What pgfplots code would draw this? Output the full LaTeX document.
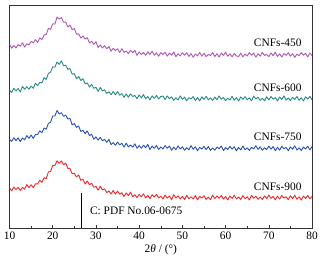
\documentclass[border=0pt]{standalone}
\usepackage{pgfplots}
\usepackage{pgfplotstable}
\pgfplotsset{compat=1.18}
\usepackage{fontspec}
\setmainfont{Liberation Serif}
\definecolor{cR}{RGB}{236,40,40}
\definecolor{cB}{RGB}{40,80,176}
\definecolor{cT}{RGB}{38,136,132}
\definecolor{cM}{RGB}{172,86,180}
\pgfplotstableread{
x R B T M
10.0 40.3 89.2 138.5 184.6
10.5 37.1 86.9 136.1 180.6
11.0 41.1 90.6 140.4 183.3
11.5 38.5 87.8 137.6 180.8
12.0 40.8 90.5 140.1 184.2
12.5 37.6 86.7 136.7 182.6
13.0 40.7 90.4 142.2 186.0
13.5 38.8 88.4 139.3 181.7
14.0 43.5 92.8 141.9 185.0
14.5 40.5 90.0 139.3 183.8
15.0 43.4 93.3 142.4 187.4
15.5 40.3 90.0 140.2 185.9
16.0 44.3 93.9 145.3 189.2
16.5 44.3 93.8 143.0 186.4
17.0 48.0 97.5 146.2 190.9
17.5 45.8 95.7 145.7 189.2
18.0 50.5 100.4 151.0 193.7
18.5 49.5 99.2 149.2 194.5
19.0 56.2 105.1 155.2 200.5
19.5 56.6 106.2 156.4 199.5
20.0 62.8 112.5 161.8 205.0
20.5 62.7 112.4 161.6 204.8
21.0 67.4 118.0 166.7 211.9
21.5 65.0 114.5 164.3 209.9
22.0 67.3 115.8 167.9 211.3
22.5 63.4 112.2 163.0 206.7
23.0 65.1 113.3 163.5 206.9
23.5 59.9 109.4 159.3 201.9
24.0 59.6 110.2 160.1 203.8
24.5 54.4 103.5 154.4 199.2
25.0 54.9 104.8 155.0 200.4
25.5 51.2 101.0 149.8 194.5
26.0 53.2 102.4 152.1 195.0
26.5 47.8 96.9 148.1 190.8
27.0 48.9 98.1 149.9 192.8
27.5 44.1 94.8 144.8 189.7
28.0 47.1 97.4 145.6 191.1
28.5 43.4 92.8 141.6 185.8
29.0 44.9 94.1 144.4 187.6
29.5 40.8 89.1 140.3 184.4
30.0 41.7 91.5 141.3 187.1
30.5 37.9 88.1 137.2 181.2
31.0 41.9 91.1 141.2 183.8
31.5 38.2 87.5 137.6 180.8
32.0 39.2 89.0 138.8 183.2
32.5 35.5 85.9 135.1 180.0
33.0 37.1 88.9 136.8 182.3
33.5 34.1 83.6 133.8 177.5
34.0 37.6 85.7 137.0 180.5
34.5 34.0 83.0 133.8 178.2
35.0 37.0 86.3 137.0 180.0
35.5 33.9 83.5 133.3 176.1
36.0 35.3 85.0 134.9 180.1
36.5 31.5 81.2 131.2 176.3
37.0 35.2 85.2 134.6 177.8
37.5 32.4 81.4 131.4 175.1
38.0 35.9 83.4 134.7 178.6
38.5 31.3 81.2 132.0 176.0
39.0 33.3 84.5 133.1 178.4
39.5 30.5 80.0 129.8 173.4
40.0 33.6 82.7 133.6 176.8
40.5 31.3 80.0 130.7 174.2
41.0 34.2 83.0 133.9 176.3
41.5 30.2 80.7 129.8 173.4
42.0 32.7 83.9 132.1 177.0
42.5 29.4 78.7 128.7 174.3
43.0 33.4 82.3 132.7 177.6
43.5 31.1 80.0 130.2 173.5
44.0 33.7 82.9 133.1 175.9
44.5 30.1 78.8 129.6 172.5
45.0 31.8 81.3 132.0 176.2
45.5 29.1 79.4 132.5 174.1
46.0 33.0 82.8 129.0 176.7
46.5 29.9 80.0 132.6 172.6
47.0 32.1 82.2 129.8 175.7
47.5 28.3 78.0 131.7 173.6
48.0 33.4 81.2 128.2 176.9
48.5 30.0 78.5 130.8 172.1
49.0 32.2 82.4 128.5 174.9
49.5 29.0 79.3 132.7 172.9
50.0 31.6 81.5 129.2 176.0
50.5 28.5 78.0 131.4 173.5
51.0 32.8 80.6 127.6 176.0
51.5 29.3 78.4 130.8 172.3
52.0 31.2 82.7 129.6 175.1
52.5 29.0 79.0 132.0 171.5
53.0 32.5 81.5 128.1 174.8
53.5 28.2 77.5 131.0 172.9
54.0 31.7 81.0 127.5 176.3
54.5 29.9 79.3 131.7 172.6
55.0 32.3 82.0 129.1 175.5
55.5 28.6 78.6 132.3 172.0
56.0 30.9 81.8 128.7 174.4
56.5 28.3 77.8 130.6 173.1
57.0 33.1 80.3 128.0 176.2
57.5 29.5 78.1 131.5 172.2
58.0 32.0 81.2 128.9 175.0
58.5 29.8 79.5 132.6 171.7
59.0 32.6 82.4 129.4 175.7
59.5 28.9 77.7 131.1 173.3
60.0 31.5 80.7 127.9 176.6
60.5 28.1 78.8 130.4 172.5
61.0 32.1 81.9 128.5 174.9
61.5 29.6 79.2 132.2 171.9
62.0 32.9 81.6 128.3 175.3
62.5 29.1 77.4 130.9 172.8
63.0 31.1 80.9 127.4 172.2
63.5 28.4 78.3 131.6 175.6
64.0 32.4 82.2 129.2 171.9
64.5 29.3 78.5 131.9 174.7
65.0 31.3 80.4 128.8 172.7
65.5 28.0 77.9 130.7 176.2
66.0 32.7 81.1 127.7 173.5
66.5 29.9 79.4 132.4 175.8
67.0 31.8 82.6 129.5 171.5
67.5 28.7 78.9 131.2 175.0
68.0 31.0 81.5 128.1 172.6
68.5 28.5 78.0 130.3 176.4
69.0 32.2 80.6 127.8 173.2
69.5 29.4 78.7 131.8 174.4
70.0 33.0 82.3 128.6 172.0
70.5 29.7 79.1 132.0 175.9
71.0 31.6 81.7 129.3 173.0
71.5 28.2 77.5 131.0 176.5
72.0 31.9 81.0 127.5 172.3
72.5 29.0 78.1 131.5 174.9
73.0 32.5 82.0 129.0 171.7
73.5 30.1 79.6 132.7 175.3
74.0 31.4 80.8 128.4 173.4
74.5 28.3 77.6 130.6 176.0
75.0 32.3 81.4 128.0 172.5
75.5 29.5 79.0 131.3 175.1
76.0 32.8 82.5 129.1 171.4
76.5 28.8 78.2 132.1 174.6
77.0 31.2 80.5 128.2 172.9
77.5 27.9 77.8 130.8 176.1
78.0 32.0 81.3 127.6 173.6
78.5 29.6 79.3 131.7 175.5
79.0 32.6 82.1 129.5 171.8
79.5 29.2 78.4 132.2 175.7
80.0 31.7 81.8 128.7 173.1
}\xrd
\begin{document}
\fontsize{11.5}{13.8}\selectfont
\begin{tikzpicture}
\path (-8bp,-34bp) rectangle (316bp,229bp);
\begin{axis}[
  at={(0,0)}, anchor=south west,
  scale only axis,
  width=304bp, height=224bp,
  xmin=10, xmax=80, ymin=0, ymax=224,
  xtick={10,20,...,80},
  minor xtick={15,25,...,75},
  ytick=\empty,
  xtick pos=bottom,
  tick align=inside,
  major tick length=3bp,
  minor tick length=2bp,
  axis line style={draw=black!80, line width=0.6pt},
  tick style={black!80, line width=0.5pt},
  /pgf/number format/assume math mode=true,
  ticklabel style={font=\fontsize{11.5}{13.8}\selectfont},
  xlabel={2\textit{θ} / (°)},
  xlabel style={font=\fontsize{11.5}{13.8}\selectfont, yshift=3bp},
  clip=true,
]
\addplot[cM, line width=0.9pt, line join=round] table[x=x,y=M] {\xrd};
\addplot[cT, line width=0.9pt, line join=round] table[x=x,y=T] {\xrd};
\addplot[cB, line width=0.9pt, line join=round] table[x=x,y=B] {\xrd};
\addplot[cR, line width=0.9pt, line join=round] table[x=x,y=R] {\xrd};
\addplot[black, line width=0.6pt] coordinates {(26.7,0) (26.7,35)};
\node[anchor=east, inner sep=0pt] at (axis cs:77.6,186) {CNFs-450};
\node[anchor=east, inner sep=0pt] at (axis cs:77.6,141) {CNFs-600};
\node[anchor=east, inner sep=0pt] at (axis cs:77.6,92) {CNFs-750};
\node[anchor=east, inner sep=0pt] at (axis cs:77.6,41) {CNFs-900};
\node[anchor=west, inner sep=0pt] at (axis cs:28.6,17) {C: PDF No.06-0675};
\end{axis}
\end{tikzpicture}
\end{document}
